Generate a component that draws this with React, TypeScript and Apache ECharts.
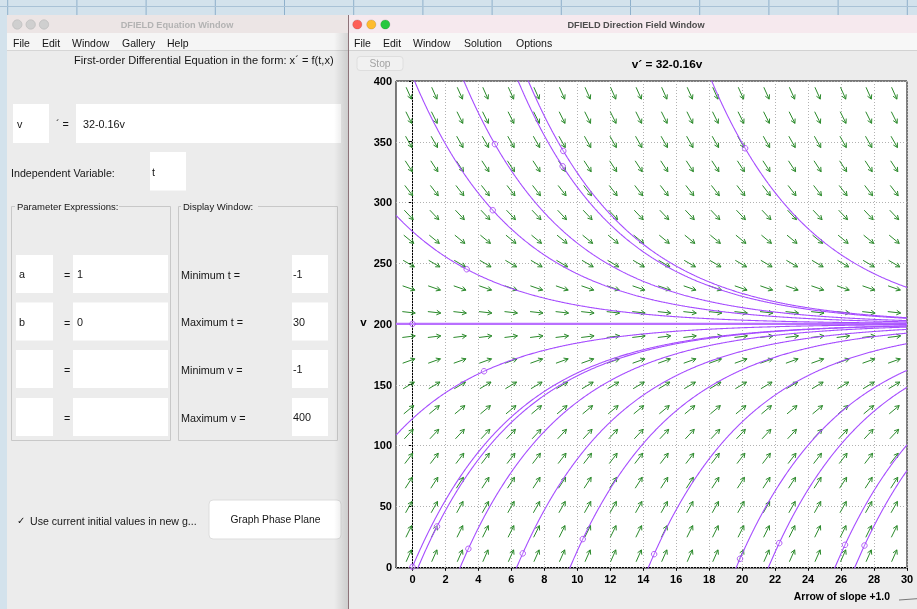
import React, { useEffect, useRef } from 'react';
import * as echarts from 'echarts';

// ---- equation and window ----
const RATE_CONST = 32;
const DECAY = 0.16;
const T_MIN = -1;
const T_MAX = 30;
const V_MIN = -1;
const V_MAX = 400;
const FIELD_N = 20;

// ---- tick labels ----
const tTicks = [0, 2, 4, 6, 8, 10, 12, 14, 16, 18, 20, 22, 24, 26, 28, 30];
const vTicks = [0, 50, 100, 150, 200, 250, 300, 350, 400];

// ---- initial points of the computed solutions ----
const initT = [0, 0, 1.49, 3.39, 6.69, 10.33, 14.66, 19.87, 22.25, 26.24, 27.42, 4.34, 5.0, 4.87, 3.29, 9.15, 9.11, 20.18];
const initV = [200, 0, 33.2, 14.8, 11.0, 22.8, 10.4, 6.6, 19.5, 18.1, 17.5, 161, 348, 293.6, 245, 342.4, 329.8, 344.6];

// ---- equation window texts ----
const menuLeft = ['File', 'Edit', 'Window', 'Gallery', 'Help'];
const menuRight = ['File', 'Edit', 'Window', 'Solution', 'Options'];
const paramNames = ['a', 'b', '', ''];
const paramValues = ['1', '0', '', ''];
const displayLabels = ['Minimum t =', 'Maximum t =', 'Minimum v =', 'Maximum v ='];
const displayValues = ['-1', '30', '-1', '400'];

const ARROW_COLOR = '#2b8a2b';
const CURVE_COLOR = '#a64dff';
const UI_FONT = 'Liberation Sans';

function fieldData() {
  const out: number[][] = [];
  const dt = (T_MAX - T_MIN) / FIELD_N;
  const dv = (V_MAX - V_MIN) / FIELD_N;
  for (let i = 0; i < FIELD_N; i++) {
    for (let j = 0; j < FIELD_N; j++) {
      const t = T_MIN + dt * (i + 0.5);
      const v = V_MIN + dv * (j + 0.5);
      out.push([t, v, RATE_CONST - DECAY * v]);
    }
  }
  return out;
}

function solution(t0: number, v0: number) {
  const eq = RATE_CONST / DECAY;
  const pts: number[][] = [];
  for (let k = 0; k <= 3100; k++) {
    const t = T_MIN + k * 0.01;
    const v = eq + (v0 - eq) * Math.exp(-DECAY * (t - t0));
    if (v < V_MIN - 150 || v > V_MAX + 150) continue;
    pts.push([t, v]);
  }
  return pts;
}

function txt(x: number, y: number, text: string, o: any = {}) {
  return {
    type: 'text',
    x,
    y,
    z: o.z ?? -2,
    style: {
      text,
      fill: o.fill ?? '#161616',
      fontFamily: o.family ?? UI_FONT,
      fontSize: o.size ?? 10.5,
      fontWeight: o.weight ?? 'normal',
      align: o.align ?? 'left',
      verticalAlign: 'middle',
    },
  };
}

function rect(x: number, y: number, w: number, h: number, fill: string, o: any = {}) {
  return {
    type: 'rect',
    z: o.z ?? -6,
    shape: { x, y, width: w, height: h, r: o.r ?? 0 },
    style: { fill, stroke: o.stroke ?? null, lineWidth: o.lw ?? 1 },
  };
}

function line(x1: number, y1: number, x2: number, y2: number, stroke: string, o: any = {}) {
  return {
    type: 'line',
    z: o.z ?? -3,
    shape: { x1, y1, x2, y2 },
    style: { stroke, lineWidth: o.lw ?? 1 },
  };
}

function buildGraphic() {
  const g: any[] = [];
  // desktop
  g.push(rect(0, 0, 917, 609, '#d3e2ec', { z: -10 }));
  for (let k = 0; k < 14; k++) g.push(line(7.7 + 69.2 * k, 0, 7.7 + 69.2 * k, 15, '#8fb0cb', { z: -9 }));
  g.push(line(0, 6.5, 917, 6.5, '#a9c2d6', { z: -9 }));

  // ---- left window ----
  g.push(rect(7, 15, 341, 600, '#ececec', { z: -8 }));
  g.push(rect(7, 15, 341, 18, '#ece5e5', { z: -7 }));
  g.push(rect(7, 33, 341, 17, '#f5f5f5', { z: -7 }));
  g.push(line(7, 50.5, 348, 50.5, '#d6d6d6', { z: -6 }));
  [17.3, 30.7, 44].forEach((cx) =>
    g.push({ type: 'circle', z: -5, shape: { cx, cy: 24.5, r: 4.6 }, style: { fill: '#cfcfcf', stroke: '#c2c2c2' } })
  );
  g.push(txt(177, 25, 'DFIELD Equation Window', { align: 'center', weight: 'bold', size: 9.2, fill: '#b3b3b3' }));
  const lmx = [13, 42, 72, 122, 167];
  menuLeft.forEach((m, i) => g.push(txt(lmx[i], 42.5, m, { size: 10.5 })));
  g.push(txt(74, 60, 'First-order Differential Equation in the form: x´ = f(t,x)', { size: 11.1 }));
  g.push(rect(13, 104, 36, 39, '#ffffff', { z: -5 }));
  g.push(txt(17, 124, 'v', { size: 10.8 }));
  g.push(txt(56, 124, '´ =', { size: 10.8 }));
  g.push(rect(76, 104, 265, 39, '#ffffff', { z: -5 }));
  g.push(txt(83, 124, '32-0.16v', { size: 10.8 }));
  g.push(txt(11, 172.5, 'Independent Variable:', { size: 10.7 }));
  g.push(rect(150, 152, 36, 38.5, '#ffffff', { z: -5 }));
  g.push(txt(152, 171.5, 't', { size: 10.8 }));
  // group boxes
  g.push(rect(11.5, 206.5, 159, 234, 'rgba(0,0,0,0)', { z: -5, stroke: '#c8c8c8' }));
  g.push(rect(178.5, 206.5, 159, 234, 'rgba(0,0,0,0)', { z: -5, stroke: '#c8c8c8' }));
  g.push(rect(15, 201, 104, 10, '#ececec', { z: -4 }));
  g.push(rect(181, 201, 77, 10, '#ececec', { z: -4 }));
  g.push(txt(17, 206, 'Parameter Expressions:', { size: 9.5 }));
  g.push(txt(183, 206, 'Display Window:', { size: 9.5 }));
  const rowTop = [255, 302.5, 350, 398];
  rowTop.forEach((y, i) => {
    g.push(rect(16, y, 37, 38, '#ffffff', { z: -4 }));
    g.push(rect(73, y, 95, 38, '#ffffff', { z: -4 }));
    g.push(rect(292, y, 36, 38, '#ffffff', { z: -4 }));
    g.push(txt(64, y + 20, '=', { size: 10.8 }));
    g.push(txt(19, y + 19, paramNames[i], { size: 10.8 }));
    g.push(txt(77, y + 19, paramValues[i], { size: 10.8 }));
    g.push(txt(181, y + 19.5, displayLabels[i], { size: 10.8 }));
    g.push(txt(293, y + 19, displayValues[i], { size: 10.8 }));
  });
  g.push(txt(17, 520.5, '✓', { size: 10, family: 'DejaVu Sans' }));
  g.push(txt(30, 520.5, 'Use current initial values in new g...', { size: 10.6 }));
  g.push(rect(209, 500, 132, 39, '#ffffff', { z: -4, r: 4, stroke: '#dddddd' }));
  g.push(txt(275.5, 519.5, 'Graph Phase Plane', { size: 10.3, align: 'center' }));
  g.push({
    type: 'rect',
    z: -3,
    shape: { x: 334, y: 33, width: 14, height: 576 },
    style: {
      fill: new echarts.graphic.LinearGradient(0, 0, 1, 0, [
        { offset: 0, color: 'rgba(0,0,0,0)' },
        { offset: 1, color: 'rgba(0,0,0,0.13)' },
      ]),
    },
  });

  // ---- right window ----
  g.push(rect(348, 15, 569, 600, '#ececec', { z: -7 }));
  g.push(rect(348, 15, 569, 18, '#f6e9ee', { z: -6 }));
  g.push(rect(348, 33, 569, 17, '#f7f7f7', { z: -6 }));
  g.push(line(348, 50.5, 917, 50.5, '#d2d2d2', { z: -5 }));
  g.push(line(348.5, 15, 348.5, 609, '#8d7379', { z: -5 }));
  const lights = [
    [357.3, '#fe5f57'],
    [371.3, '#febc2e'],
    [385.3, '#28c840'],
  ];
  lights.forEach(([cx, c]) =>
    g.push({ type: 'circle', z: -4, shape: { cx, cy: 24.5, r: 4.6 }, style: { fill: c, stroke: 'rgba(0,0,0,0.12)' } })
  );
  g.push(txt(636, 25, 'DFIELD Direction Field Window', { align: 'center', weight: 'bold', size: 9.2, fill: '#4d4d4d' }));
  const rmx = [354, 383, 413, 464, 516];
  menuRight.forEach((m, i) => g.push(txt(rmx[i], 42.5, m, { size: 10.5 })));
  g.push(rect(357, 56.5, 46, 14, '#f1f1f1', { z: -4, r: 3, stroke: '#dedede' }));
  g.push(txt(380, 63.5, 'Stop', { align: 'center', size: 10.3, fill: '#a3a3a3' }));
  g.push(txt(667, 63.5, 'v´ = 32-0.16v', { align: 'center', weight: 'bold', size: 11.8, fill: '#000' }));
  g.push(txt(363.5, 322, 'v', { align: 'center', weight: 'bold', size: 11.5, fill: '#000' }));
  g.push(txt(890, 596, 'Arrow of slope +1.0', { align: 'right', weight: 'bold', size: 10.4, fill: '#000' }));
  g.push(line(899, 600, 917, 598.7, '#777777', { z: -2 }));
  return g;
}

function buildOption() {
  const field = fieldData();
  const series: any[] = [];
  const GRID_STYLE = { stroke: '#b2b2b2', lineWidth: 1, lineDash: [1, 2] };

  series.push({
    type: 'custom',
    silent: true,
    z: 1,
    data: tTicks.map((t) => [t, V_MIN]),
    encode: { x: 0, y: 1 },
    renderItem: (_p: any, api: any) => {
      const t = api.value(0);
      const a = api.coord([t, V_MIN]);
      const b = api.coord([t, V_MAX]);
      return {
        type: 'line',
        shape: { x1: Math.round(a[0]) + 0.5, y1: a[1], x2: Math.round(b[0]) + 0.5, y2: b[1] },
        style: GRID_STYLE,
      };
    },
  });
  series.push({
    type: 'custom',
    silent: true,
    z: 1,
    data: vTicks.map((v) => [T_MIN, v]),
    encode: { x: 0, y: 1 },
    renderItem: (_p: any, api: any) => {
      const v = api.value(1);
      const a = api.coord([T_MIN, v]);
      const b = api.coord([T_MAX, v]);
      return {
        type: 'line',
        shape: { x1: a[0], y1: Math.round(a[1]) + 0.5, x2: b[0], y2: Math.round(b[1]) + 0.5 },
        style: GRID_STYLE,
      };
    },
  });

  series.push({
    type: 'custom',
    silent: true,
    z: 2,
    data: field,
    encode: { x: 0, y: 1 },
    renderItem: (_p: any, api: any) => {
      const t = api.value(0) as number;
      const v = api.value(1) as number;
      const s = api.value(2) as number;
      const c = api.coord([t, v]);
      const d = api.coord([t + 0.01, v + s * 0.01]);
      let dx = d[0] - c[0];
      let dy = d[1] - c[1];
      const n = Math.hypot(dx, dy) || 1;
      dx /= n;
      dy /= n;
      const half = 6.5;
      const x1 = c[0] - dx * half;
      const y1 = c[1] - dy * half;
      const x2 = c[0] + dx * half;
      const y2 = c[1] + dy * half;
      const hl = 4.2;
      const hw = 2.3;
      const bx = x2 - dx * hl;
      const by = y2 - dy * hl;
      return {
        type: 'group',
        children: [
          { type: 'line', shape: { x1, y1, x2, y2 }, style: { stroke: ARROW_COLOR, lineWidth: 1 } },
          {
            type: 'polyline',
            shape: { points: [[bx - dy * hw, by + dx * hw], [x2, y2], [bx + dy * hw, by - dx * hw]] },
            style: { stroke: ARROW_COLOR, lineWidth: 1, fill: 'none' },
          },
        ],
      };
    },
  });

  initT.forEach((t0, i) => {
    const eqLine = Math.abs(initV[i] - RATE_CONST / DECAY) < 1e-9;
    series.push({
      type: 'line',
      data: solution(t0, initV[i]),
      showSymbol: false,
      symbol: 'none',
      silent: true,
      z: 3,
      clip: true,
      lineStyle: { color: eqLine ? '#b970ff' : CURVE_COLOR, width: eqLine ? 2.2 : 1.1 },
    });
  });

  series.push({
    type: 'scatter',
    data: initT.map((t, i) => [t, initV[i]]),
    symbol: 'circle',
    symbolSize: 5.5,
    silent: true,
    z: 4,
    itemStyle: { color: 'rgba(255,255,255,0.3)', borderColor: '#a33cf5', borderWidth: 1 },
  });

  return {
    animation: false,
    backgroundColor: 'transparent',
    graphic: buildGraphic(),
    grid: {
      left: 396,
      top: 81,
      width: 511,
      height: 487,
      show: true,
      backgroundColor: '#ffffff',
      borderColor: '#000000',
      borderWidth: 1,
      z: 0,
    },
    xAxis: {
      type: 'value',
      min: T_MIN,
      max: T_MAX,
      axisLine: { show: true, lineStyle: { color: '#000' } },
      axisTick: { show: true, customValues: tTicks, length: 4, lineStyle: { color: '#000' } },
      axisLabel: {
        customValues: tTicks,
        fontFamily: UI_FONT,
        fontWeight: 'bold',
        fontSize: 11,
        color: '#000',
        margin: 5,
      },
      splitLine: { show: false },
    },
    yAxis: {
      type: 'value',
      min: V_MIN,
      max: V_MAX,
      axisLine: { show: true, lineStyle: { color: '#000' } },
      axisTick: { show: true, customValues: vTicks, length: 4, lineStyle: { color: '#000' } },
      axisLabel: {
        customValues: vTicks,
        fontFamily: UI_FONT,
        fontWeight: 'bold',
        fontSize: 11,
        color: '#000',
        margin: 4,
      },
      splitLine: { show: false },
    },
    series,
  };
}

export default function App() {
  const ref = useRef<HTMLDivElement>(null);
  useEffect(() => {
    document.body.style.margin = '0';
    const chart = echarts.init(ref.current as HTMLDivElement, null, { renderer: 'svg' });
    chart.setOption(buildOption() as any);
    return () => chart.dispose();
  }, []);
  return <div ref={ref} style={{ position: 'fixed', left: 0, top: 0, width: 917, height: 609 }} />;
}
